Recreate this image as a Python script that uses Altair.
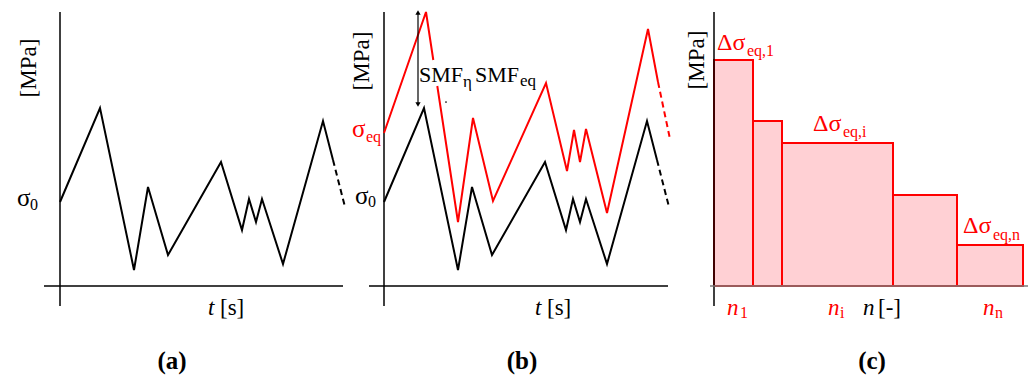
import altair as alt
import pandas as pd

FONT = "Liberation Serif"
RED = "#ff0000"
BLACK = "#000000"

# ---- load history sigma_0(t), shared by panels (a) and (b) ----
t_hist = [0, 4.0, 7.4, 8.8, 10.8, 16.1, 18.2, 18.9, 19.6, 20.2, 22.3, 26.3, 27.3]
s0_hist = [84, 178, 16, 99, 31, 124, 56, 87, 64, 87, 22, 165, 126]
t_hist_tail = [27.3, 28.5]
s0_hist_tail = [126, 79]

# ---- equivalent stress sigma_eq(t), panel (b); gap where the SMF label sits ----
t_eq = [0, 4.2, 4.93, 5.33, 7.4, 8.9, 10.9, 16.2, 18.3, 19.0, 19.6, 20.2, 22.3, 26.4, 27.4]
s_eq = [153, 274, 226, 200, 64, 168, 85, 203, 115, 156, 124, 157, 73, 257, 204]
seg_eq = [0, 0, 0, 1, 1, 1, 1, 1, 1, 1, 1, 1, 1, 1, 1]
t_eq_tail = [27.4, 28.6]
s_eq_tail = [204, 147]

# ---- block spectrum, panel (c) ----
n_edges = [0, 3.9, 6.8, 17.9, 24.3, 30.9]
d_sigma = [226, 165, 143, 91, 41]

H = 378
Y = alt.Scale(domain=[-92, 286], nice=False, zero=False)

MAIN = 23   # regular labels
SUB = 16    # subscripts
GREEK = 25  # sigma
BOLD = 25   # panel letters


def xs(domain):
    return alt.Scale(domain=domain, nice=False, zero=False)


def line(df, xsc, color, dash=None, width=2.0):
    kw = dict(color=color, strokeWidth=width, strokeJoin="miter", strokeCap="butt")
    if dash:
        kw["strokeDash"] = dash
    enc = dict(
        x=alt.X("x:Q", scale=xsc, axis=None),
        y=alt.Y("y:Q", scale=Y, axis=None),
        order="i:Q",
    )
    if "seg" in df.columns:
        enc["detail"] = "seg:N"
    return alt.Chart(df).mark_line(**kw).encode(**enc)


def rules(df, xsc, color, width=1.5):
    return alt.Chart(df).mark_rule(color=color, strokeWidth=width).encode(
        x=alt.X("x:Q", scale=xsc, axis=None),
        x2="x2:Q",
        y=alt.Y("y:Q", scale=Y, axis=None),
        y2="y2:Q",
    )


def texts(rows, xsc, **kw):
    df = pd.DataFrame(rows, columns=["text", "x", "y", "size", "color"])
    opts = dict(font=FONT, align="left", baseline="alphabetic")
    opts.update(kw)
    return alt.Chart(df).mark_text(**opts).encode(
        x=alt.X("x:Q", scale=xsc, axis=None),
        y=alt.Y("y:Q", scale=Y, axis=None),
        text="text:N",
        size=alt.Size("size:Q", scale=None, legend=None),
        color=alt.Color("color:N", scale=None, legend=None),
    )


def frame(xsc, h0, h1, axis_color=BLACK):
    horiz = pd.DataFrame({"x": [h0], "x2": [h1], "y": [0], "y2": [0]})
    vert = pd.DataFrame({"x": [0], "x2": [0], "y": [-20], "y2": [274]})
    return [rules(vert, xsc, BLACK), rules(horiz, xsc, axis_color)]


hist = pd.DataFrame({"x": t_hist, "y": s0_hist, "i": range(len(t_hist))})
hist_tail = pd.DataFrame({"x": t_hist_tail, "y": s0_hist_tail, "i": [0, 1]})

# ---------------- panel (a) ----------------
XA = xs([-6.0, 28.6])
panel_a = alt.layer(
    *frame(XA, -1.6, 28.3),
    line(hist, XA, BLACK),
    line(hist_tail, XA, BLACK, dash=[6, 4]),
    texts([("[MPa]", -3.1, 218, MAIN, BLACK)], XA, angle=270, align="center", baseline="middle"),
    texts([("σ", -4.3, 80, GREEK, BLACK), ("0", -3.0, 76, SUB, BLACK),
           ("[s]", 16.0, -29, MAIN, BLACK)], XA),
    texts([("t", 14.8, -29, MAIN, BLACK)], XA, fontStyle="italic"),
    texts([("(a)", 11.2, -83, BOLD, BLACK)], XA, fontWeight="bold", align="center"),
).properties(width=346, height=H)

# ---------------- panel (b) ----------------
XB = xs([-3.8, 29.6])
eq = pd.DataFrame({"x": t_eq, "y": s_eq, "seg": seg_eq, "i": range(len(t_eq))})
eq_tail = pd.DataFrame({"x": t_eq_tail, "y": s_eq_tail, "i": [0, 1]})
arrow = pd.DataFrame({"x": [3.4], "x2": [3.4], "y": [182], "y2": [273]})
heads = pd.DataFrame({"x": [3.4, 3.4], "y": [273.5, 181.5], "shape": ["triangle-up", "triangle-down"]})
dot = pd.DataFrame({"x": [6.2], "y": [184]})

panel_b = alt.layer(
    *frame(XB, -1.5, 28.4),
    line(hist, XB, BLACK),
    line(hist_tail, XB, BLACK, dash=[6, 4]),
    line(eq, XB, RED),
    line(eq_tail, XB, RED, dash=[6, 4]),
    rules(arrow, XB, BLACK, width=1.2),
    alt.Chart(heads).mark_point(filled=True, size=28, color=BLACK, opacity=1).encode(
        x=alt.X("x:Q", scale=XB, axis=None),
        y=alt.Y("y:Q", scale=Y, axis=None),
        shape=alt.Shape("shape:N", scale=None, legend=None),
    ),
    alt.Chart(dot).mark_circle(size=3, color=BLACK, opacity=1).encode(
        x=alt.X("x:Q", scale=XB, axis=None), y=alt.Y("y:Q", scale=Y, axis=None)
    ),
    texts([("[MPa]", -2.2, 225, MAIN, BLACK)], XB, angle=270, align="center", baseline="middle"),
    texts([("σ", -3.2, 149, GREEK, RED), ("eq", -1.8, 144, SUB, RED),
           ("σ", -2.9, 82, GREEK, BLACK), ("0", -1.6, 79, SUB, BLACK),
           ("SMF", 3.5, 204, 22, BLACK), ("η", 7.9, 199, 17, BLACK),
           ("SMF", 9.1, 204, 22, BLACK), ("eq", 13.6, 200, 17, BLACK),
           ("[s]", 16.3, -29, MAIN, BLACK)], XB),
    texts([("t", 15.1, -29, MAIN, BLACK)], XB, fontStyle="italic"),
    texts([("(b)", 13.8, -83, BOLD, BLACK)], XB, fontWeight="bold", align="center"),
).properties(width=334, height=H)

# ---------------- panel (c) ----------------
XC = xs([-3.4, 31.7])
blocks = pd.DataFrame({"x": n_edges[:-1], "x2": n_edges[1:], "y": d_sigma})
bars = alt.Chart(blocks).mark_rect(fill="#ffd0d4", stroke=RED, strokeWidth=2).encode(
    x=alt.X("x:Q", scale=XC, axis=None),
    x2="x2:Q",
    y=alt.Y("y:Q", scale=Y, axis=None),
    y2=alt.datum(0),
)
fc = frame(XC, -0.4, 31.4, axis_color="#7a7a7a")
panel_c = alt.layer(
    bars,
    fc[0],
    fc[1],
    texts([("[MPa]", -1.7, 226, MAIN, BLACK)], XC, angle=270, align="center", baseline="middle"),
    texts([("Δσ", 0.3, 236, 24, RED), ("eq,1", 3.3, 230, SUB, RED),
           ("Δσ", 9.9, 155, 24, RED), ("eq,i", 12.9, 149, SUB, RED),
           ("Δσ", 24.9, 53, 24, RED), ("eq,n", 27.9, 46, SUB, RED),
           ("1", 2.6, -32, SUB, RED), ("i", 12.6, -32, SUB, RED), ("n", 28.1, -32, SUB, RED),
           ("[-]", 16.4, -29, MAIN, BLACK)], XC),
    texts([("n", 1.3, -29, MAIN, RED), ("n", 11.4, -29, MAIN, RED), ("n", 26.9, -29, MAIN, RED),
           ("n", 14.9, -29, MAIN, BLACK)], XC, fontStyle="italic"),
    texts([("(c)", 15.8, -83, BOLD, BLACK)], XC, fontWeight="bold", align="center"),
).properties(width=351, height=H)

chart = (
    alt.hconcat(panel_a, panel_b, panel_c, spacing=0, bounds="flush")
    .properties(padding=0, background="white")
    .configure_view(strokeWidth=0)
)

chart.save("out.html", embed_options={"renderer": "svg", "actions": False})
